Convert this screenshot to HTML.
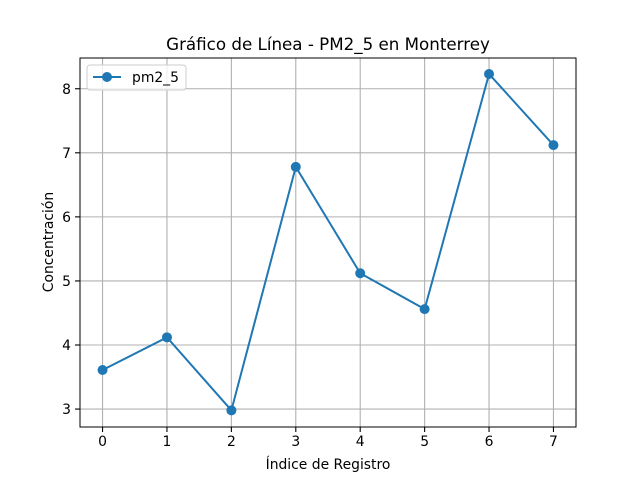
<!DOCTYPE html>
<html><head><meta charset="utf-8"><style>
body{margin:0;background:#fff}
svg text{font-family:"DejaVu Sans","Liberation Sans",sans-serif;fill:#000}
</style></head><body>
<svg id="chart" width="640" height="480" xmlns="http://www.w3.org/2000/svg">
<rect width="640" height="480" fill="#fff"/>
<g id="grid"></g>
<g id="ticks"></g>
<path id="line" fill="none" stroke="#1f77b4" stroke-width="2"/>
<g id="points"></g>
<rect x="80" y="58" width="496" height="369" fill="none" stroke="#000" stroke-width="1"/>
<text x="328" y="50" font-size="16.7" text-anchor="middle">Gráfico de Línea - PM2_5 en Monterrey</text>
<text x="328" y="469" font-size="13.9" text-anchor="middle">Índice de Registro</text>
<text transform="translate(53,242) rotate(-90)" font-size="13.9" text-anchor="middle">Concentración</text>
<g>
<rect x="87" y="65" width="99" height="25" rx="3" fill="#fff" fill-opacity="0.8" stroke="#ccc"/>
<line x1="93" y1="77" x2="121" y2="77" stroke="#1f77b4" stroke-width="2"/>
<circle cx="107" cy="77" r="5" fill="#1f77b4"/>
<text x="132" y="82" font-size="13.9">pm2_5</text>
</g>
</svg>
<script>
const categories=[0,1,2,3,4,5,6,7];
const values=[3.61,4.12,2.98,6.78,5.12,4.56,8.23,7.12];
const yTicks=[3,4,5,6,7,8];
const xTicks=[0,1,2,3,4,5,6,7];
const NS="http://www.w3.org/2000/svg";
function xs(v){return 80+(v+0.35)/7.7*496;}
function ys(v){return 427-(v-2.72)/(8.48-2.72)*369;}
const grid=document.getElementById('grid'),ticks=document.getElementById('ticks'),pts=document.getElementById('points');
function mk(tag,attrs,parent){const e=document.createElementNS(NS,tag);for(const k in attrs)e.setAttribute(k,attrs[k]);parent.appendChild(e);return e;}
xTicks.forEach(t=>{const x=xs(t);
const g=mk('line',{x1:x,x2:x,y1:58,y2:427,stroke:'#b0b0b0','stroke-width':1.1},grid);


mk('line',{x1:x,x2:x,y1:427,y2:432,stroke:'#000','stroke-width':1.1},ticks);
const tx=mk('text',{x:x,y:446,'font-size':13.9,'text-anchor':'middle'},ticks);tx.textContent=t;

});
yTicks.forEach(t=>{const y=ys(t);
const g=mk('line',{x1:80,x2:576,y1:y,y2:y,stroke:'#b0b0b0','stroke-width':1.1},grid);


mk('line',{x1:75,x2:80,y1:y,y2:y,stroke:'#000','stroke-width':1.1},ticks);
const tx=mk('text',{x:71,y:y+5,'font-size':13.9,'text-anchor':'end'},ticks);tx.textContent=t;

});
let d='';
values.forEach((v,i)=>{d+=(i?'L':'M')+xs(categories[i])+' '+ys(v);
const c=mk('circle',{cx:xs(categories[i]),cy:ys(v),r:5,fill:'#1f77b4'},pts);

});
document.getElementById('line').setAttribute('d',d);
</script>
</body></html>
